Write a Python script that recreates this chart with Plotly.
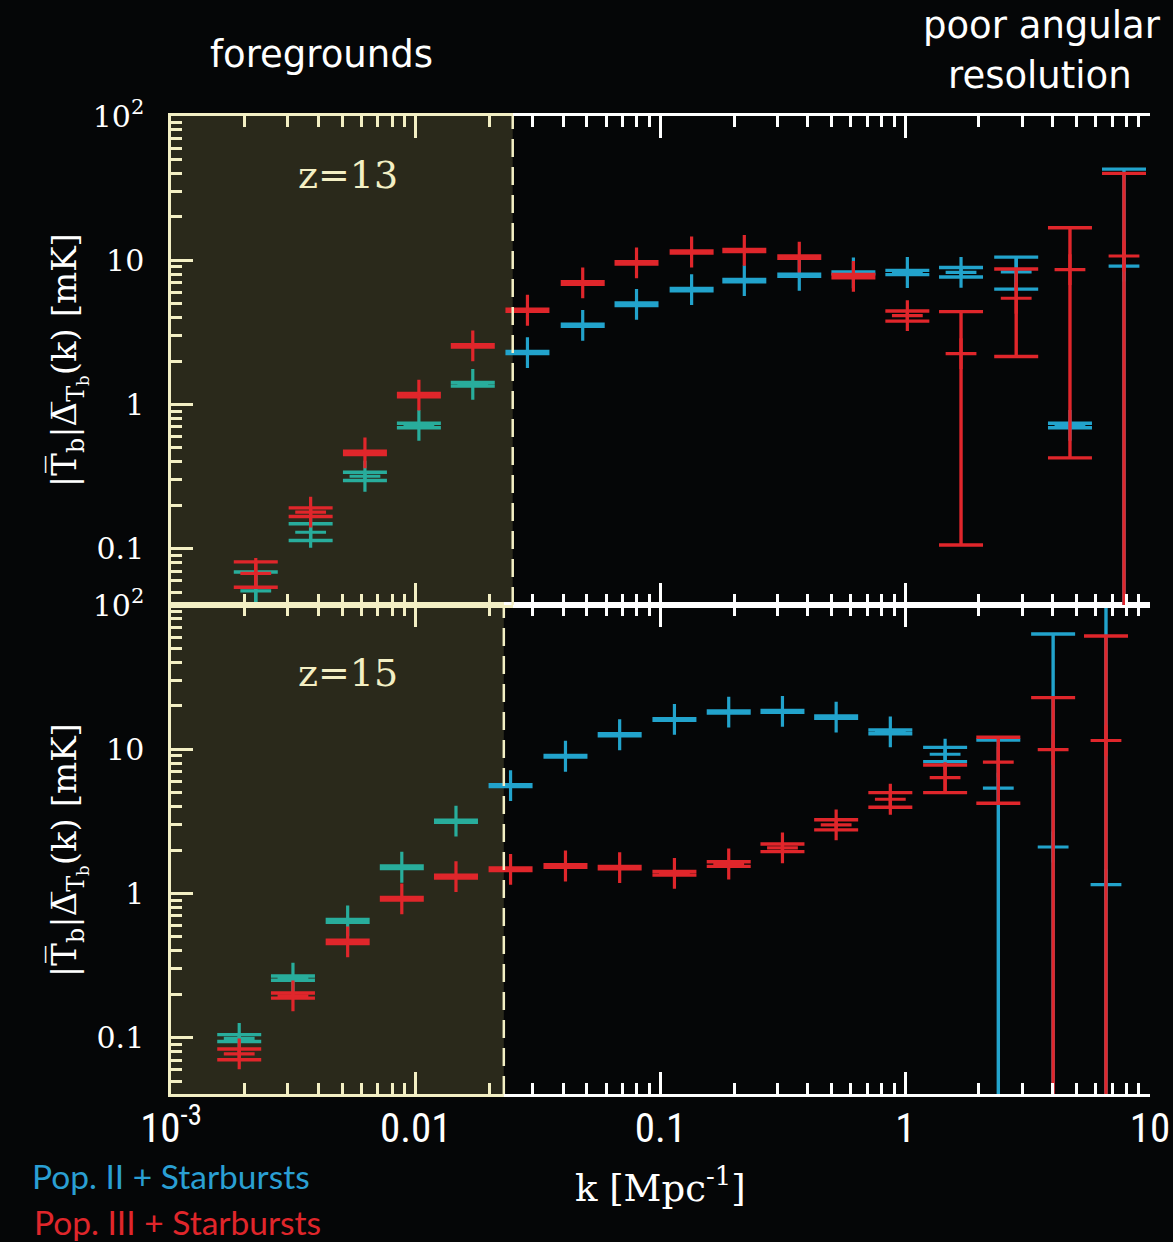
import math
import plotly.graph_objects as go

# ---------------- data ----------------
# z = 13 panel
k_z13 = [0.00222, 0.00372, 0.00620, 0.0103, 0.0171, 0.0286, 0.0481, 0.0798, 0.134,
         0.220, 0.369, 0.614, 1.02, 1.69, 2.84, 4.71, 7.83]
pop2_z13 = [0.051, 0.130, 0.318, 0.715, 1.38, 2.29, 3.54, 4.95, 6.26, 7.22, 7.87, 8.17,
            8.22, 8.25, 8.3, 0.715, 9.1]
pop2_z13_hi = [0.069, 0.149, 0.339, 0.74, 1.42, 2.33, 3.6, 5.05, 6.38, 7.35, 8.0, 8.3,
               8.5, 8.9, 10.5, 0.74, 42.8]
pop2_z13_lo = [0.02, 0.114, 0.297, 0.69, 1.34, 2.25, 3.48, 4.85, 6.14, 7.1, 7.75, 8.05,
               7.95, 7.66, 6.3, 0.69, 0.01]
pop3_z13 = [0.0675, 0.179, 0.462, 1.16, 2.55, 4.50, 6.96, 9.58, 11.4, 11.7, 10.5, 7.74,
            4.13, 2.25, 5.45, 8.6, 10.7]
pop3_z13_hi = [0.081, 0.192, 0.475, 1.19, 2.6, 4.58, 7.1, 9.75, 11.6, 11.9, 10.7, 7.96,
               4.45, 4.40, 8.7, 16.8, 40.0]
pop3_z13_lo = [0.054, 0.167, 0.45, 1.13, 2.5, 4.42, 6.82, 9.4, 11.2, 11.5, 10.3, 7.54,
               3.78, 0.106, 2.15, 0.426, 0.01]

# z = 15 panel
k_z15 = [0.00190, 0.00315, 0.00527, 0.00877, 0.0146, 0.0244, 0.0409, 0.0681, 0.114,
         0.190, 0.315, 0.522, 0.869, 1.455, 2.40, 4.02, 6.61]
pop2_z15 = [0.099, 0.259, 0.645, 1.52, 3.17, 5.60, 8.94, 12.6, 16.1, 18.1, 18.3, 16.7,
            13.2, 9.23, 5.37, 2.10, 1.15]
pop2_z15_hi = [0.105, 0.268, 0.66, 1.55, 3.22, 5.68, 9.05, 12.8, 16.3, 18.4, 18.6, 17.0,
               13.6, 10.3, 11.6, 63.0, 150.0]
pop2_z15_lo = [0.094, 0.250, 0.63, 1.49, 3.12, 5.52, 8.83, 12.4, 15.9, 17.8, 18.0, 16.4,
               12.8, 8.2, 0.01, 0.01, 0.01]
pop3_z15 = [0.0773, 0.195, 0.462, 0.918, 1.31, 1.47, 1.55, 1.51, 1.38, 1.60, 2.07, 2.99,
            4.50, 6.36, 8.13, 9.94, 11.5]
pop3_z15_hi = [0.0834, 0.204, 0.475, 0.94, 1.34, 1.50, 1.58, 1.54, 1.42, 1.66, 2.20, 3.24,
               5.0, 7.78, 12.1, 22.8, 61.0]
pop3_z15_lo = [0.0703, 0.188, 0.45, 0.90, 1.28, 1.44, 1.52, 1.48, 1.34, 1.54, 1.95, 2.76,
               3.96, 5.0, 4.22, 0.01, 0.01]

# foreground limits (dashed lines)
fg_limit_z13 = 0.0249
fg_limit_z15 = 0.0229

x_tick_vals = [0.001, 0.01, 0.1, 1, 10]
x_tick_text = ["10<sup>-3</sup>", "0.01", "0.1", "1", "10"]
y_tick_vals = [0.1, 1, 10, 100]
y_tick_text = ["0.1", "1", "10", "10<sup>2</sup>"]

# ---------------- style ----------------
BLUE = "#22a3cc"
TEAL = "#28ad9c"
RED = "#e0262b"
CREAM = "#f3efc4"
OLIVE = "#2a291b"
BG = "#050607"
WHITE = "#ffffff"
BIN_HALF_DEX = 0.092

minor_x = [m * 10 ** e for e in range(-3, 1) for m in range(2, 10)]
minor_y = [m * 10 ** e for e in range(-2, 2) for m in range(2, 10)]
Y_RANGE = [math.log10(0.0407), 2]

fig = go.Figure()


def add_series(k, v, hi, lo, color, xa, ya, fg_limit=None, alt_color=None):
    idx_groups = []
    if fg_limit is None:
        idx_groups.append((list(range(len(k))), color))
    else:
        inside = [i for i in range(len(k)) if k[i] * 10 ** BIN_HALF_DEX <= fg_limit]
        outside = [i for i in range(len(k)) if i not in inside]
        idx_groups.append((inside, alt_color))
        idx_groups.append((outside, color))
    for idx, c in idx_groups:
        if not idx:
            continue
        fig.add_trace(go.Scatter(
            x=[k[i] for i in idx], y=[v[i] for i in idx],
            xaxis=xa, yaxis=ya, mode="markers", showlegend=False,
            marker=dict(symbol="cross-thin-open", size=22, color=c,
                        line=dict(width=3.2, color=c)),
            error_y=dict(type="data", symmetric=False,
                         array=[hi[i] - v[i] for i in idx],
                         arrayminus=[v[i] - lo[i] for i in idx],
                         width=22, thickness=3.4, color=c),
            cliponaxis=True,
        ))


# top panel (z=13): x2/y2 ; bottom panel (z=15): x/y
add_series(k_z13, pop2_z13, pop2_z13_hi, pop2_z13_lo, BLUE, "x2", "y2", fg_limit_z13, TEAL)
add_series(k_z13, pop3_z13, pop3_z13_hi, pop3_z13_lo, RED, "x2", "y2")
add_series(k_z15, pop2_z15, pop2_z15_hi, pop2_z15_lo, BLUE, "x", "y", fg_limit_z15, TEAL)
add_series(k_z15, pop3_z15, pop3_z15_hi, pop3_z15_lo, RED, "x", "y")

# empty traces to realise decorative subplots
fig.add_trace(go.Scatter(x=[None], y=[None], xaxis="x3", yaxis="y2", showlegend=False))
fig.add_trace(go.Scatter(x=[None], y=[None], xaxis="x4", yaxis="y", showlegend=False))


def xax(color, rng, domain, anchor, labels=False):
    d = dict(type="log", range=rng, domain=domain, anchor=anchor, automargin=False,
             showline=True, linecolor=color, linewidth=2.5, mirror="ticks",
             ticks="inside", ticklen=22, tickwidth=2.5, tickcolor=color,
             tickmode="array", tickvals=x_tick_vals, ticktext=x_tick_text,
             showticklabels=labels, showgrid=False, zeroline=False,
             minor=dict(ticks="inside", ticklen=11, tickwidth=2.5, tickcolor=color,
                        tickmode="array", tickvals=minor_x, showgrid=False))
    if labels:
        d["tickfont"] = dict(family="Liberation Sans Narrow, Roboto Condensed, Roboto, sans-serif",
                             size=41, color=WHITE)
        d["ticklabelstandoff"] = -4
    return d


def yax(color, domain, anchor, side="left", overlaying=None, labels=True):
    d = dict(type="log", range=Y_RANGE, domain=domain, anchor=anchor, side=side,
             automargin=False,
             showline=True, linecolor=color, linewidth=2.5, mirror=False,
             ticks="inside", ticklen=22, tickwidth=2.5, tickcolor=color,
             tickmode="array", tickvals=y_tick_vals, ticktext=y_tick_text,
             showticklabels=labels, showgrid=False, zeroline=False,
             minor=dict(ticks="inside", ticklen=11, tickwidth=2.5, tickcolor=color,
                        tickmode="array", tickvals=minor_y, showgrid=False))
    if overlaying:
        d["overlaying"] = overlaying
    if labels:
        d["tickfont"] = dict(family="DejaVu Serif, serif", size=30, color=WHITE)
        d["ticklabelstandoff"] = 18
    return d


f13 = (math.log10(fg_limit_z13) + 3) / 4
f15 = (math.log10(fg_limit_z15) + 3) / 4

fig.update_layout(
    width=1173, height=1242,
    margin=dict(l=171, r=23, t=116, b=148, autoexpand=False),
    paper_bgcolor=BG, plot_bgcolor="rgba(0,0,0,0)",
    xaxis=xax(WHITE, [-3, 1], [0, 1], "y", labels=True),
    xaxis2=xax(WHITE, [-3, 1], [0, 1], "y2"),
    xaxis3=xax(CREAM, [-3, math.log10(fg_limit_z13)], [0, f13], "y2"),
    xaxis4=xax(CREAM, [-3, math.log10(fg_limit_z15)], [0, f15], "y"),
    yaxis=yax(CREAM, [0, 0.5], "x"),
    yaxis2=yax(CREAM, [0.5, 1], "x2"),
    yaxis3=yax(WHITE, [0, 0.5], "x", side="right", overlaying="y", labels=False),
    yaxis4=yax(WHITE, [0.5, 1], "x2", side="right", overlaying="y2", labels=False),
    showlegend=False,
)

# foreground shading + dashed limits
for xa, ya, lim in (("x2", "y2", fg_limit_z13), ("x", "y", fg_limit_z15)):
    fig.add_shape(type="rect", xref=xa, yref=f"{ya} domain", x0=0.001, x1=lim, y0=0, y1=1,
                  fillcolor=OLIVE, line=dict(width=0), layer="below")
    fig.add_shape(type="line", xref=xa, yref=f"{ya} domain", x0=lim, x1=lim, y0=0, y1=1,
                  line=dict(color=CREAM, width=2.5, dash="18px,10px"), layer="above")

ann = []
serif = "DejaVu Serif, serif"
sans = "DejaVu Sans, Verdana, sans-serif"
ann.append(dict(text="z=13", x=0.181, y=0.9397, font=dict(family=serif, size=38, color=CREAM)))
ann.append(dict(text="z=15", x=0.181, y=0.4305, font=dict(family=serif, size=38, color=CREAM)))
ann.append(dict(text="foregrounds", x=0.1542, y=1.0624, font=dict(family=sans, size=37, color=WHITE)))
ann.append(dict(text="poor angular", x=0.8897, y=1.093, font=dict(family=sans, size=37, color=WHITE)))
ann.append(dict(text="resolution", x=0.8876, y=1.0419, font=dict(family=sans, size=37, color=WHITE)))
ann.append(dict(text="k [Mpc<sup>-1</sup>]", x=0.4995, y=-0.094,
                font=dict(family=serif, size=37, color=WHITE)))
ytitle = "|T\u0305<sub>b</sub>|\u0394\u0305<sub>T<sub>b</sub></sub>(k) [mK]"
ann.append(dict(text=ytitle, x=-0.105, y=0.7505, textangle=-90,
                font=dict(family=serif, size=34, color=WHITE)))
ann.append(dict(text=ytitle, x=-0.105, y=0.2495, textangle=-90,
                font=dict(family=serif, size=34, color=WHITE)))
ann.append(dict(text="Pop. II + Starbursts", x=-0.144, y=-0.0838, xanchor="left",
                font=dict(family="Lato, Open Sans, sans-serif", size=33.5, color="#2a9fd3")))
ann.append(dict(text="Pop. III + Starbursts", x=-0.142, y=-0.131, xanchor="left",
                font=dict(family="Lato, Open Sans, sans-serif", size=33.5, color=RED)))
for a in ann:
    a.setdefault("xanchor", "center")
    a.update(xref="paper", yref="paper", yanchor="middle", showarrow=False)
    fig.add_annotation(**a)

fig.write_html(
    "out.html",
    config={"displayModeBar": False},
    post_script="document.body.style.margin='0';document.body.style.background='#050607';",
)
